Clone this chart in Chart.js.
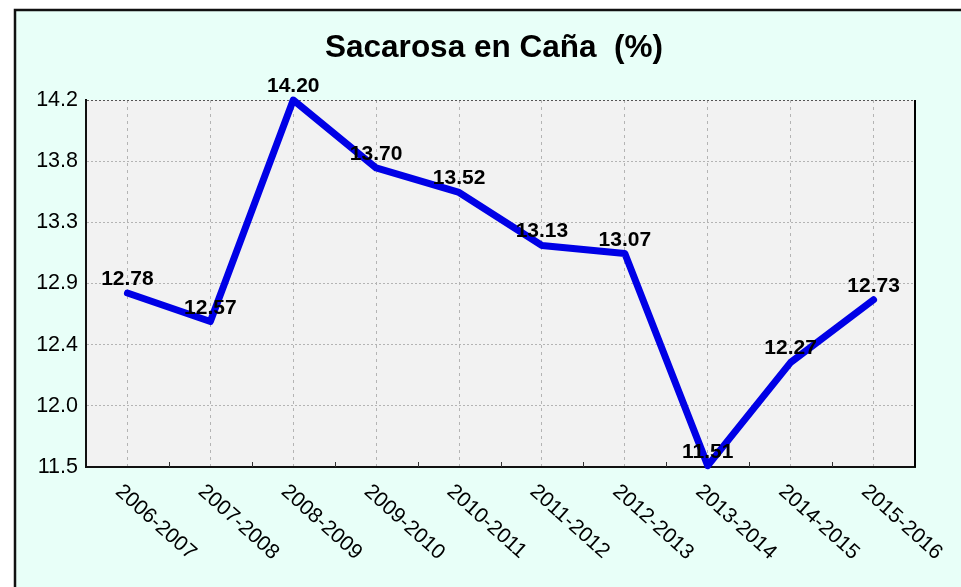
<!DOCTYPE html>
<html>
<head>
<meta charset="utf-8">
<script src="https://cdn.jsdelivr.net/npm/chart.js@4.4.1/dist/chart.umd.min.js"></script>
<style>
  html, body { margin: 0; padding: 0; background: #ffffff; }
  #wrap { position: relative; width: 961px; height: 587px; }
</style>
</head>
<body>
<div id="wrap"><canvas id="c" width="961" height="587"></canvas></div>
<script>
const chartTitle = 'Sacarosa en Caña  (%)';
const categories = ['2006-2007','2007-2008','2008-2009','2009-2010','2010-2011','2011-2012','2012-2013','2013-2014','2014-2015','2015-2016'];
const sacarosa = [12.78, 12.57, 14.20, 13.70, 13.52, 13.13, 13.07, 11.51, 12.27, 12.73];
const yTickValues = [11.5, 11.95, 12.4, 12.85, 13.3, 13.75, 14.2];
const yTickLabels = ['11.5', '12.0', '12.4', '12.9', '13.3', '13.8', '14.2'];

const FONT = '"Liberation Sans", Arial, Helvetica, sans-serif';

const decorPlugin = {
  id: 'decor',
  beforeDraw(chart) {
    const ctx = chart.ctx;
    const a = chart.chartArea;
    ctx.save();
    ctx.fillStyle = '#ffffff';
    ctx.fillRect(0, 0, chart.width, chart.height);
    ctx.fillStyle = '#e8fff8';
    ctx.fillRect(15, 10, chart.width - 15, chart.height - 10);
    ctx.strokeStyle = '#111111';
    ctx.lineWidth = 2.5;
    ctx.beginPath();
    ctx.moveTo(15, chart.height + 5);
    ctx.lineTo(15, 10);
    ctx.lineTo(chart.width + 5, 10);
    ctx.stroke();
    ctx.fillStyle = '#f2f2f2';
    ctx.fillRect(a.left, a.top, a.right - a.left, a.bottom - a.top);
    ctx.restore();
  },
  beforeDatasetsDraw(chart) {
    const ctx = chart.ctx;
    const a = chart.chartArea;
    const xs = chart.scales.x;
    ctx.save();
    ctx.strokeStyle = '#000000';
    ctx.lineWidth = 2;
    ctx.beginPath();
    ctx.moveTo(a.right, a.top);
    ctx.lineTo(a.right, a.bottom);
    ctx.stroke();
    ctx.lineWidth = 1;
    ctx.strokeStyle = '#333333';
    for (let i = 0; i < categories.length - 1; i++) {
      const x = Math.round((xs.getPixelForTick(i) + xs.getPixelForTick(i + 1)) / 2) + 0.5;
      ctx.beginPath();
      ctx.moveTo(x, a.bottom);
      ctx.lineTo(x, a.bottom - 5);
      ctx.stroke();
    }
    ctx.restore();
  },
  afterDraw(chart) {
    const ctx = chart.ctx;
    const a = chart.chartArea;
    const xs = chart.scales.x;
    ctx.save();
    ctx.fillStyle = '#000000';
    ctx.font = 'bold 31.5px ' + FONT;
    ctx.textAlign = 'center';
    ctx.textBaseline = 'alphabetic';
    ctx.fillText(chartTitle, 494, 57);
    ctx.font = '21px ' + FONT;
    ctx.textAlign = 'left';
    categories.forEach((c, i) => {
      const x = xs.getPixelForTick(i);
      ctx.save();
      ctx.translate(x - 13, a.bottom + 26);
      ctx.rotate(42 * Math.PI / 180);
      ctx.fillText(c, 0, 0);
      ctx.restore();
    });
    const meta = chart.getDatasetMeta(0);
    ctx.font = 'bold 21px ' + FONT;
    ctx.textAlign = 'center';
    meta.data.forEach((pt, i) => {
      ctx.fillText(sacarosa[i].toFixed(2), pt.x, pt.y - 8);
    });
    ctx.restore();
  }
};

new Chart(document.getElementById('c'), {
  type: 'line',
  data: {
    labels: categories,
    datasets: [{
      data: sacarosa,
      borderColor: '#0000e6',
      borderWidth: 7,
      borderCapStyle: 'round',
      borderJoinStyle: 'round',
      pointRadius: 0,
      pointHoverRadius: 0,
      tension: 0,
      fill: false,
      clip: false
    }]
  },
  options: {
    responsive: false,
    animation: false,
    events: [],
    layout: { padding: { top: 100, right: 46, bottom: 0, left: 0 } },
    plugins: { legend: { display: false }, title: { display: false }, tooltip: { enabled: false } },
    scales: {
      x: {
        type: 'category',
        offset: true,
        afterFit(scale) { scale.height = 120; },
        ticks: { display: false },
        grid: { color: '#b4b4b4', lineWidth: 1, drawTicks: false, offset: false },
        border: { display: true, color: '#111111', width: 2, dash: [3, 4] }
      },
      y: {
        min: 11.5,
        max: 14.2,
        afterFit(scale) { scale.width = 86; },
        afterBuildTicks(scale) { scale.ticks = yTickValues.map(v => ({ value: v })); },
        ticks: {
          color: '#000000',
          padding: 8,
          font: { family: FONT, size: 21.5 },
          callback: (v, i) => yTickLabels[i]
        },
        grid: {
          color: (ctx) => (ctx.tick && ctx.tick.value === 14.2) ? '#555555' : '#b4b4b4',
          lineWidth: 1,
          drawTicks: false
        },
        border: { display: true, color: '#111111', width: 2, dash: [2, 2] }
      }
    }
  },
  plugins: [decorPlugin]
});
</script>
</body>
</html>
